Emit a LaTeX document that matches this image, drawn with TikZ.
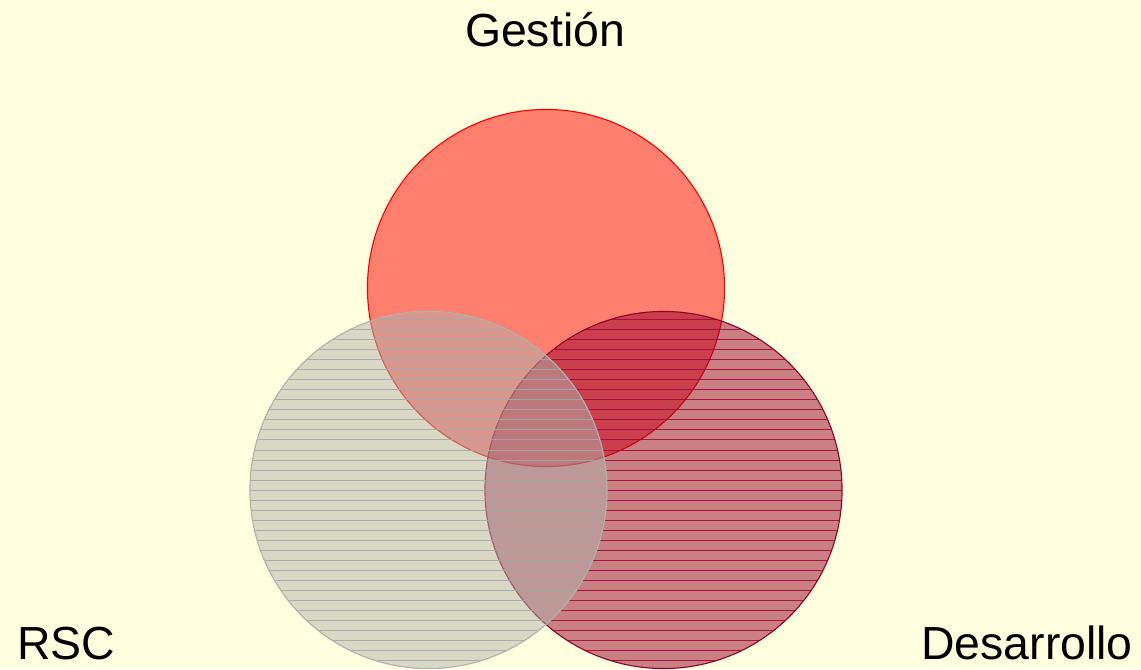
\documentclass[tikz,border=0pt]{standalone}
\usepackage{fontspec}
\setmainfont{Liberation Sans}
\usepackage{tikz}
\usetikzlibrary{positioning}
\definecolor{paper}{RGB}{255,255,224}
\definecolor{gestred}{RGB}{255,0,0}
\definecolor{rscgray}{RGB}{178,178,172}
\definecolor{rscline}{RGB}{168,168,172}
\definecolor{desred}{RGB}{150,0,40}
\definecolor{desline}{RGB}{160,10,60}
\tikzstyle{setcircle} = [circle, minimum size=8.925cm, inner sep=0pt, outer sep=0pt, fill opacity=0.5, line width=0.8pt]
\tikzstyle{label} = [font=\fontsize{33}{40}\selectfont, text=black]
\tikzset{hatched/.style={path picture={
    \foreach \dy in {-4.5,-4.25,...,4.5}
      \draw[#1, line width=0.7pt, draw opacity=0.9]
        ([yshift=\dy cm]path picture bounding box.west) -- ++(9cm,0);
}}}

\begin{document}
\begin{tikzpicture}[x=0.025cm, y=-0.025cm]

% background
\fill[paper] (0,0) rectangle (1141,669);
\useasboundingbox (0,0) rectangle (1141,669);

% Circles
\node (gestion) [setcircle, fill=gestred, draw=gestred] at (546,288) {};
\node (desarrollo) [setcircle, fill=desred, draw=desred, hatched=desline] at (663.5,490) {};
\node (rsc) [setcircle, fill=rscgray, draw=rscgray, hatched=rscline] at (428.5,490) {};

% Labels
\node (lgestion) [label, anchor=base] at (545,47) {Gestión};
\node (lrsc) [label, anchor=base west, inner sep=0pt] at (17,659) {RSC};
\node (ldesarrollo) [label, anchor=base east, inner sep=0pt] at (1133,659) {Desarrollo};

\end{tikzpicture}
\end{document}
